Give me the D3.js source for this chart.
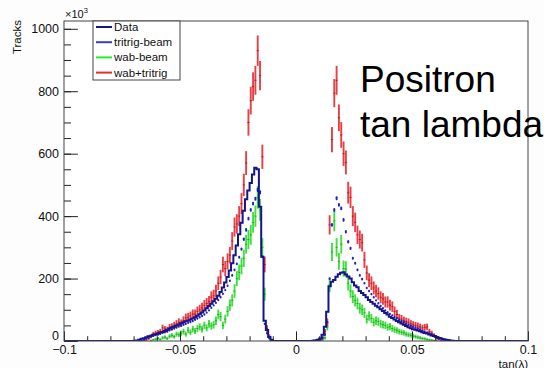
<!DOCTYPE html>
<html>
<head>
<meta charset="utf-8">
<script src="https://cdn.jsdelivr.net/npm/d3@7"></script>
<style>
  body { margin: 0; background: #fdfdfd; }
  svg { display: block; font-family: "Liberation Sans", Arial, sans-serif; }
</style>
</head>
<body>
<svg width="544" height="368"></svg>
<script>
// bin width is 0.001 in tan(lambda); left arrays start at -0.070, right arrays at 0.006
const leftStart = -70;
const rightStart = 6;

const dataLeft = [1,2,4,7,9,12,15,17,20,22, 24,27,29,32,36,40,43,46,50,53, 57,60,63,66,69,72,76,81,86,91,
  98,105,112,119,127,135,145,157,171,187, 205,226,249,275,306,342,379,417,454,482, 506,533,555,550,430,270,65,35,13,3];
const dataRight = [0,1,2,4,8,20,46,94,175,190, 195,206,214,219,220,213,207,200,188,178, 172,160,154,147,140,131,125,119,113,108,
  102,96,90,85,78,74,69,64,60,56, 52,48,44,41,38,36,34,31,28,26, 24,21,18,16,13,10,8,6,4,3, 2,1,0,0];

const tritrigLeft = [0,0,1,2,5,8,11,14,17,19, 21,23,26,28,31,34,37,40,43,46, 49,52,55,58,61,64,68,72,76,80,
  85,91,98,106,114,122,131,140,151,163, 177,193,210,228,247,268,294,326,356,392, 420,440,456,484,476,270,55,25,10,3];
const tritrigRight = [0,1,2,3,5,9,20,60,200,372, 420,457,436,425,388,350,318,297,265,249, 228,210,198,185,170,160,150,140,130,121,
  112,105,98,92,87,82,77,73,68,64, 61,56,52,49,46,43,40,36,33,30, 27,24,21,18,15,12,9,6,4,2, 1,0,0,0];

const wabLeft = [0,0,0,0,0,0,0,2,4,6, 8,5,10,12,8,15,18,14,22,20, 25,30,22,35,28,38,32,40,45,38,
  50,42,55,48,52,65,85,78,50,70, 95,115,130,160,200,220,240,265,310,325, 340,380,400,460,420,300,150,40,10,3];
const wabRight = [0,0,0,1,1,3,10,45,180,285, 385,300,255,310,232,230,185,160,142,130, 120,105,100,90,70,80,72,60,65,62,
  55,52,50,44,46,40,36,34,30,28, 26,22,20,18,16,14,12,10,8,7, 5,4,3,2,1,0,0,0,0,0, 0,0,0,0];

const sumLeft = [0,0,0,0,1,3,8,15,22,25, 27,30,42,38,36,44,46,50,55,60, 57,66,74,76,80,86,86,95,100,106,
  114,120,126,140,145,160,185,205,245,232, 255,275,320,365,375,400,440,500,570,700, 770,815,835,930,850,590,245,40,15,4];
const sumRight = [0,0,1,2,5,12,30,60,372,645, 794,835,715,660,600,572,475,460,400,380, 340,325,315,260,218,195,185,170,160,152,
  140,135,125,125,115,110,95,85,73,70, 65,62,60,55,52,50,48,45,42,44, 45,30,25,18,10,5,2,1,0,0, 0,0,0,0];

const legendNames = ["Data", "tritrig-beam", "wab-beam", "wab+tritrig"];
const xMajor = [-0.1, -0.05, 0, 0.05, 0.1];
const yMajor = [0, 200, 400, 600, 800, 1000];

const colData = "#14148c", colTri = "#1f1fc4", colWab = "#2bdc2b", colSum = "#e52a30";

const svg = d3.select("svg");
const x = d3.scaleLinear().domain([-0.1, 0.1]).range([64, 528]);
const y = d3.scaleLinear().domain([0, 1025]).range([341, 21]);

// put the two halves onto the full -0.1..0.1 axis (200 bins)
function bins(left, right) {
  const out = [];
  for (let i = -100; i < 100; i++) {
    let v = 0;
    if (i >= leftStart && i < leftStart + left.length) v = left[i - leftStart];
    if (i >= rightStart && i < rightStart + right.length) v = right[i - rightStart];
    out.push({ x0: i / 1000, x1: (i + 1) / 1000, v: v });
  }
  return out;
}

const dataBins = bins(dataLeft, dataRight);
const triBins = bins(tritrigLeft, tritrigRight);
const wabBins = bins(wabLeft, wabRight);
const sumBins = bins(sumLeft, sumRight);

svg.append("rect").attr("x", 64).attr("y", 21).attr("width", 464).attr("height", 320).attr("fill", "#fff");

svg.append("clipPath").attr("id", "plot")
  .append("rect").attr("x", 64).attr("y", 21).attr("width", 464).attr("height", 320);
const g = svg.append("g").attr("clip-path", "url(#plot)");

// error bars, half length ~ k*sqrt(n)
function errBars(data, color, mark, k, w) {
  const sel = g.append("g").selectAll("g").data(data.filter(d => d.v > 0)).join("g");
  sel.append("line")
    .attr("x1", d => x((d.x0 + d.x1) / 2)).attr("x2", d => x((d.x0 + d.x1) / 2))
    .attr("y1", d => y(d.v - k * Math.sqrt(d.v))).attr("y2", d => y(d.v + k * Math.sqrt(d.v)))
    .attr("stroke", color).attr("stroke-width", w).attr("stroke-opacity", 0.9);
  sel.append("line")
    .attr("x1", d => x((d.x0 + d.x1) / 2) - 1.1).attr("x2", d => x((d.x0 + d.x1) / 2) + 1.1)
    .attr("y1", d => y(d.v)).attr("y2", d => y(d.v))
    .attr("stroke", mark).attr("stroke-width", 1).attr("stroke-opacity", 0.7);
}

errBars(wabBins, colWab, "#158f15", 1.7, 1.9);
errBars(sumBins, colSum, "#8c1014", 1.6, 1.9);

// tritrig-beam: small blue markers
g.append("g").selectAll("rect")
  .data(triBins.filter(d => d.v > 0))
  .join("rect")
  .attr("x", d => x((d.x0 + d.x1) / 2) - 1)
  .attr("width", 2)
  .attr("y", d => Math.min(y(d.v) - 1.2, y(d.v + 0.3 * Math.sqrt(d.v))))
  .attr("height", d => Math.max(2.4, y(d.v - 0.3 * Math.sqrt(d.v)) - y(d.v + 0.3 * Math.sqrt(d.v))))
  .attr("rx", 1)
  .attr("fill", colTri);

// data: step histogram
const step = d3.line().x(d => x(d.x)).y(d => y(d.v)).curve(d3.curveStepAfter);
const pts = dataBins.map(d => ({ x: d.x0, v: d.v }));
pts.push({ x: 0.1, v: 0 });
g.append("path").attr("d", step(pts)).attr("fill", "none")
  .attr("stroke", colData).attr("stroke-width", 2);

// axes, ROOT style ticks inside the frame
const fs = "12.5px";
svg.append("g").attr("transform", "translate(0,341)")
  .call(d3.axisBottom(x).tickValues(xMajor).tickSize(-9.6).tickPadding(4.5).tickFormat(d3.format("")));
svg.append("g").attr("transform", "translate(0,341)")
  .call(d3.axisBottom(x).tickValues(d3.range(-100, 101, 10).map(d => d / 1000)).tickSize(-4.8).tickFormat(""));
const yAxis = svg.append("g").attr("transform", "translate(64,0)")
  .call(d3.axisLeft(y).tickValues(yMajor).tickSize(-13.9).tickPadding(5).tickFormat(d3.format("d")));
svg.append("g").attr("transform", "translate(64,0)")
  .call(d3.axisLeft(y).tickValues(d3.range(0, 1025, 50)).tickSize(-7).tickFormat(""));
svg.selectAll(".domain").remove();
svg.selectAll(".tick line").attr("stroke", "#222");
svg.selectAll(".tick text").attr("font-size", fs).attr("font-family", "Liberation Sans, Arial, sans-serif").attr("fill", "#111");
// lift the y "0" a little off the x labels
yAxis.selectAll(".tick text").filter(d => d === 0).attr("dy", "-0.12em");

svg.append("rect").attr("x", 64).attr("y", 21).attr("width", 464).attr("height", 320)
  .attr("fill", "none").attr("stroke", "#444").attr("stroke-width", 1);

// axis titles
svg.append("text").attr("transform", "translate(21,20) rotate(-90)")
  .attr("text-anchor", "end").attr("font-size", "11.5px").attr("fill", "#111").text("Tracks");
const exp = svg.append("text").attr("x", 65).attr("y", 18).attr("font-size", "11px").attr("fill", "#111");
exp.append("tspan").text("\u00d710");
exp.append("tspan").attr("font-size", "7.5px").attr("dy", -5).text("3");
svg.append("text").attr("x", 528).attr("y", 367.5).attr("text-anchor", "end")
  .attr("font-size", "11.5px").attr("fill", "#111").text("tan(\u03bb)");

// legend
const lg = svg.append("g");
lg.append("rect").attr("x", 93).attr("y", 21).attr("width", 87).attr("height", 59)
  .attr("fill", "#fff").attr("stroke", "#444").attr("stroke-width", 1);
const legendColors = [colData, "#3a3ad0", "#22f022", colSum];
legendNames.forEach((name, i) => {
  const yy = 27 + i * 15.2;
  lg.append("line").attr("x1", 96).attr("x2", 112).attr("y1", yy).attr("y2", yy)
    .attr("stroke", legendColors[i]).attr("stroke-width", 2);
  lg.append("text").attr("x", 114).attr("y", yy + 4).attr("font-size", "11.5px")
    .attr("fill", "#111").text(name);
});

// big annotation
svg.append("text").attr("x", 360).attr("y", 92).attr("font-size", "37px").attr("fill", "#000").text("Positron");
svg.append("text").attr("x", 360).attr("y", 137).attr("font-size", "37px").attr("fill", "#000").text("tan lambda");
</script>
</body>
</html>
